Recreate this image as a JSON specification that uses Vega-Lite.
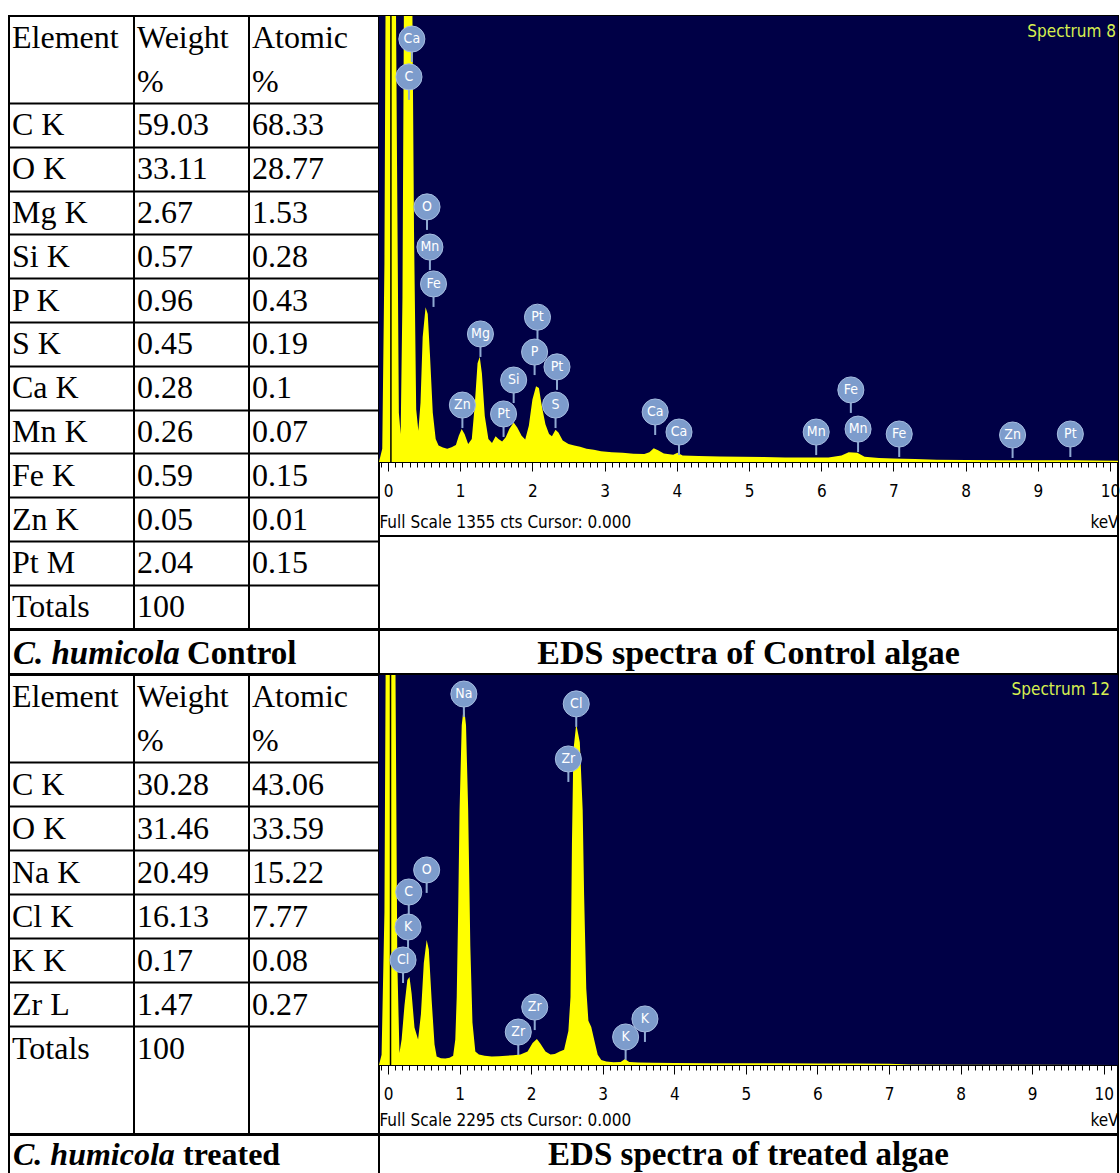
{
  "$schema": "https://vega.github.io/schema/vega-lite/v6.json",
  "padding": {"left": 8, "top": 14, "right": 0, "bottom": 0},
  "background": "white",
  "spacing": -2,
  "config": {
    "view": {"stroke": "black", "strokeWidth": 2},
    "concat": {"spacing": 0}
  },
  "datasets": {
    "t1": [
      {"row": "hdr1", "Element": "Element", "Weight": "Weight", "Atomic": "Atomic"},
      {"row": "hdr2", "Element": "", "Weight": "%", "Atomic": "%"},
      {"row": "C K", "Element": "C K", "Weight": 59.03, "Atomic": 68.33},
      {"row": "O K", "Element": "O K", "Weight": 33.11, "Atomic": 28.77},
      {"row": "Mg K", "Element": "Mg K", "Weight": 2.67, "Atomic": 1.53},
      {"row": "Si K", "Element": "Si K", "Weight": 0.57, "Atomic": 0.28},
      {"row": "P K", "Element": "P K", "Weight": 0.96, "Atomic": 0.43},
      {"row": "S K", "Element": "S K", "Weight": 0.45, "Atomic": 0.19},
      {"row": "Ca K", "Element": "Ca K", "Weight": 0.28, "Atomic": 0.1},
      {"row": "Mn K", "Element": "Mn K", "Weight": 0.26, "Atomic": 0.07},
      {"row": "Fe K", "Element": "Fe K", "Weight": 0.59, "Atomic": 0.15},
      {"row": "Zn K", "Element": "Zn K", "Weight": 0.05, "Atomic": 0.01},
      {"row": "Pt M", "Element": "Pt M", "Weight": 2.04, "Atomic": 0.15},
      {"row": "Totals", "Element": "Totals", "Weight": 100, "Atomic": ""}
    ],
    "t2": [
      {"row": "hdr1", "Element": "Element", "Weight": "Weight", "Atomic": "Atomic"},
      {"row": "hdr2", "Element": "", "Weight": "%", "Atomic": "%"},
      {"row": "C K", "Element": "C K", "Weight": 30.28, "Atomic": 43.06},
      {"row": "O K", "Element": "O K", "Weight": 31.46, "Atomic": 33.59},
      {"row": "Na K", "Element": "Na K", "Weight": 20.49, "Atomic": 15.22},
      {"row": "Cl K", "Element": "Cl K", "Weight": 16.13, "Atomic": 7.77},
      {"row": "K K", "Element": "K K", "Weight": 0.17, "Atomic": 0.08},
      {"row": "Zr L", "Element": "Zr L", "Weight": 1.47, "Atomic": 0.27},
      {"row": "Totals", "Element": "Totals", "Weight": 100, "Atomic": ""}
    ],
    "spec1": [
      {"keV": -0.125, "cts": 0}, {"keV": -0.08, "cts": 40}, {"keV": -0.05, "cts": 600}, {"keV": -0.03, "cts": 1600},
      {"keV": 0.0, "cts": 1650}, {"keV": 0.05, "cts": 1700}, {"keV": 0.1, "cts": 1700}, {"keV": 0.125, "cts": 900},
      {"keV": 0.15, "cts": 150}, {"keV": 0.175, "cts": 85}, {"keV": 0.2, "cts": 500}, {"keV": 0.225, "cts": 1600},
      {"keV": 0.33, "cts": 1600}, {"keV": 0.36, "cts": 700}, {"keV": 0.39, "cts": 160}, {"keV": 0.42, "cts": 95},
      {"keV": 0.45, "cts": 180}, {"keV": 0.48, "cts": 380}, {"keV": 0.52, "cts": 470}, {"keV": 0.55, "cts": 450},
      {"keV": 0.58, "cts": 330}, {"keV": 0.62, "cts": 150}, {"keV": 0.66, "cts": 70}, {"keV": 0.7, "cts": 50},
      {"keV": 0.76, "cts": 44}, {"keV": 0.82, "cts": 40}, {"keV": 0.88, "cts": 45}, {"keV": 0.94, "cts": 52},
      {"keV": 0.98, "cts": 80}, {"keV": 1.02, "cts": 100}, {"keV": 1.06, "cts": 85}, {"keV": 1.11, "cts": 55},
      {"keV": 1.16, "cts": 70}, {"keV": 1.2, "cts": 170}, {"keV": 1.24, "cts": 300}, {"keV": 1.27, "cts": 320},
      {"keV": 1.3, "cts": 270}, {"keV": 1.34, "cts": 140}, {"keV": 1.39, "cts": 70}, {"keV": 1.44, "cts": 58},
      {"keV": 1.49, "cts": 78}, {"keV": 1.53, "cts": 70}, {"keV": 1.58, "cts": 62}, {"keV": 1.63, "cts": 75},
      {"keV": 1.68, "cts": 100}, {"keV": 1.74, "cts": 120}, {"keV": 1.79, "cts": 105}, {"keV": 1.85, "cts": 80},
      {"keV": 1.9, "cts": 68}, {"keV": 1.95, "cts": 110}, {"keV": 2.0, "cts": 190}, {"keV": 2.05, "cts": 230},
      {"keV": 2.09, "cts": 225}, {"keV": 2.13, "cts": 170}, {"keV": 2.18, "cts": 115}, {"keV": 2.23, "cts": 85},
      {"keV": 2.27, "cts": 78}, {"keV": 2.32, "cts": 98}, {"keV": 2.36, "cts": 90}, {"keV": 2.42, "cts": 65},
      {"keV": 2.5, "cts": 55}, {"keV": 2.58, "cts": 50}, {"keV": 2.66, "cts": 46}, {"keV": 2.75, "cts": 40},
      {"keV": 2.85, "cts": 37}, {"keV": 2.95, "cts": 33}, {"keV": 3.1, "cts": 30}, {"keV": 3.25, "cts": 28},
      {"keV": 3.4, "cts": 25}, {"keV": 3.55, "cts": 24}, {"keV": 3.62, "cts": 30}, {"keV": 3.68, "cts": 42},
      {"keV": 3.74, "cts": 36}, {"keV": 3.82, "cts": 26}, {"keV": 3.95, "cts": 22}, {"keV": 4.01, "cts": 28},
      {"keV": 4.08, "cts": 20}, {"keV": 4.3, "cts": 18}, {"keV": 4.6, "cts": 17}, {"keV": 4.9, "cts": 16},
      {"keV": 5.2, "cts": 15}, {"keV": 5.5, "cts": 14}, {"keV": 5.8, "cts": 14}, {"keV": 6.1, "cts": 14},
      {"keV": 6.28, "cts": 20}, {"keV": 6.38, "cts": 30}, {"keV": 6.5, "cts": 28}, {"keV": 6.6, "cts": 16},
      {"keV": 6.8, "cts": 12}, {"keV": 7.0, "cts": 11}, {"keV": 7.3, "cts": 9}, {"keV": 7.6, "cts": 7},
      {"keV": 8.0, "cts": 6}, {"keV": 8.5, "cts": 5}, {"keV": 9.0, "cts": 5}, {"keV": 9.5, "cts": 5},
      {"keV": 10.11, "cts": 4}
    ],
    "spec2": [
      {"keV": -0.126, "cts": 0}, {"keV": -0.09, "cts": 60}, {"keV": -0.05, "cts": 900}, {"keV": -0.03, "cts": 2600},
      {"keV": 0.1, "cts": 2600}, {"keV": 0.13, "cts": 600}, {"keV": 0.16, "cts": 70}, {"keV": 0.19, "cts": 150},
      {"keV": 0.23, "cts": 350}, {"keV": 0.27, "cts": 500}, {"keV": 0.3, "cts": 518}, {"keV": 0.33, "cts": 420},
      {"keV": 0.37, "cts": 220}, {"keV": 0.42, "cts": 150}, {"keV": 0.46, "cts": 300}, {"keV": 0.5, "cts": 600},
      {"keV": 0.54, "cts": 735}, {"keV": 0.57, "cts": 680}, {"keV": 0.61, "cts": 380}, {"keV": 0.65, "cts": 120},
      {"keV": 0.68, "cts": 50}, {"keV": 0.74, "cts": 40}, {"keV": 0.8, "cts": 38}, {"keV": 0.86, "cts": 42},
      {"keV": 0.91, "cts": 55}, {"keV": 0.94, "cts": 150}, {"keV": 0.96, "cts": 400}, {"keV": 0.98, "cts": 900},
      {"keV": 1.0, "cts": 1500}, {"keV": 1.03, "cts": 2000}, {"keV": 1.06, "cts": 2113}, {"keV": 1.09, "cts": 2000},
      {"keV": 1.12, "cts": 1500}, {"keV": 1.15, "cts": 700}, {"keV": 1.18, "cts": 250}, {"keV": 1.22, "cts": 80},
      {"keV": 1.27, "cts": 62}, {"keV": 1.35, "cts": 55}, {"keV": 1.45, "cts": 50}, {"keV": 1.55, "cts": 52},
      {"keV": 1.65, "cts": 55}, {"keV": 1.75, "cts": 58}, {"keV": 1.85, "cts": 62}, {"keV": 1.95, "cts": 80},
      {"keV": 2.02, "cts": 130}, {"keV": 2.08, "cts": 153}, {"keV": 2.13, "cts": 125}, {"keV": 2.2, "cts": 80},
      {"keV": 2.27, "cts": 62}, {"keV": 2.33, "cts": 65}, {"keV": 2.4, "cts": 80}, {"keV": 2.46, "cts": 90},
      {"keV": 2.52, "cts": 200}, {"keV": 2.55, "cts": 400}, {"keV": 2.57, "cts": 1300}, {"keV": 2.59, "cts": 1850},
      {"keV": 2.63, "cts": 2007}, {"keV": 2.68, "cts": 1900}, {"keV": 2.72, "cts": 1500}, {"keV": 2.74, "cts": 1000},
      {"keV": 2.77, "cts": 450}, {"keV": 2.8, "cts": 260}, {"keV": 2.84, "cts": 224}, {"keV": 2.88, "cts": 150},
      {"keV": 2.93, "cts": 60}, {"keV": 2.98, "cts": 30}, {"keV": 3.05, "cts": 20}, {"keV": 3.15, "cts": 16},
      {"keV": 3.25, "cts": 18}, {"keV": 3.31, "cts": 35}, {"keV": 3.37, "cts": 18}, {"keV": 3.5, "cts": 15},
      {"keV": 3.7, "cts": 13}, {"keV": 4.0, "cts": 12}, {"keV": 4.5, "cts": 11}, {"keV": 5.0, "cts": 10},
      {"keV": 5.5, "cts": 10}, {"keV": 6.0, "cts": 9}, {"keV": 6.5, "cts": 9}, {"keV": 7.0, "cts": 8},
      {"keV": 7.3, "cts": 3}, {"keV": 8.0, "cts": 2}, {"keV": 9.0, "cts": 1}, {"keV": 10.2, "cts": 0}
    ],
    "lab1": [
      {"el": "Ca", "keV": 0.33, "cts": 1285}, {"el": "C", "keV": 0.29, "cts": 1170},
      {"el": "O", "keV": 0.54, "cts": 775}, {"el": "Mn", "keV": 0.58, "cts": 653},
      {"el": "Fe", "keV": 0.63, "cts": 541}, {"el": "Mg", "keV": 1.28, "cts": 389},
      {"el": "Pt", "keV": 2.07, "cts": 440}, {"el": "P", "keV": 2.03, "cts": 334},
      {"el": "Pt", "keV": 2.34, "cts": 289}, {"el": "Si", "keV": 1.74, "cts": 249},
      {"el": "S", "keV": 2.32, "cts": 173}, {"el": "Zn", "keV": 1.03, "cts": 173},
      {"el": "Pt", "keV": 1.6, "cts": 146}, {"el": "Ca", "keV": 3.7, "cts": 152},
      {"el": "Ca", "keV": 4.03, "cts": 91}, {"el": "Fe", "keV": 6.41, "cts": 219},
      {"el": "Mn", "keV": 5.93, "cts": 91}, {"el": "Mn", "keV": 6.51, "cts": 100},
      {"el": "Fe", "keV": 7.08, "cts": 85}, {"el": "Zn", "keV": 8.65, "cts": 82},
      {"el": "Pt", "keV": 9.45, "cts": 85}
    ],
    "lab2": [
      {"el": "Na", "keV": 1.06, "cts": 2183}, {"el": "Cl", "keV": 2.63, "cts": 2125},
      {"el": "Zr", "keV": 2.52, "cts": 1801}, {"el": "O", "keV": 0.54, "cts": 1148},
      {"el": "C", "keV": 0.29, "cts": 1018}, {"el": "K", "keV": 0.28, "cts": 812},
      {"el": "Cl", "keV": 0.21, "cts": 618}, {"el": "Zr", "keV": 2.05, "cts": 341},
      {"el": "Zr", "keV": 1.82, "cts": 194}, {"el": "K", "keV": 3.32, "cts": 165},
      {"el": "K", "keV": 3.59, "cts": 271}
    ]
  },
  "vconcat": [
    {
      "hconcat": [
        {
          "width": 125, "height": 613,
          "data": {"name": "t1"},
          "mark": {"type": "text", "align": "left", "baseline": "middle", "dx": 3, "font": "Liberation Serif", "fontSize": 32, "color": "black"},
          "encoding": {
            "x": {"datum": 0, "type": "quantitative", "scale": {"domain": [0, 1]}, "axis": null},
            "y": {"field": "row", "type": "nominal", "scale": {"type": "band", "domain": ["hdr1", "hdr2", "C K", "O K", "Mg K", "Si K", "P K", "S K", "Ca K", "Mn K", "Fe K", "Zn K", "Pt M", "Totals"], "paddingInner": 0, "paddingOuter": 0},
              "axis": {"values": ["C K", "O K", "Mg K", "Si K", "P K", "S K", "Ca K", "Mn K", "Fe K", "Zn K", "Pt M", "Totals"], "bandPosition": 0, "grid": true, "gridColor": "black", "gridWidth": 2, "gridOpacity": 1, "labels": false, "ticks": false, "domain": false, "title": null}},
            "text": {"field": "Element", "type": "nominal"}
          }
        },
        {
          "width": 115, "height": 613,
          "data": {"name": "t1"},
          "mark": {"type": "text", "align": "left", "baseline": "middle", "dx": 3, "font": "Liberation Serif", "fontSize": 32, "color": "black"},
          "encoding": {
            "x": {"datum": 0, "type": "quantitative", "scale": {"domain": [0, 1]}, "axis": null},
            "y": {"field": "row", "type": "nominal", "scale": {"type": "band", "domain": ["hdr1", "hdr2", "C K", "O K", "Mg K", "Si K", "P K", "S K", "Ca K", "Mn K", "Fe K", "Zn K", "Pt M", "Totals"], "paddingInner": 0, "paddingOuter": 0},
              "axis": {"values": ["C K", "O K", "Mg K", "Si K", "P K", "S K", "Ca K", "Mn K", "Fe K", "Zn K", "Pt M", "Totals"], "bandPosition": 0, "grid": true, "gridColor": "black", "gridWidth": 2, "gridOpacity": 1, "labels": false, "ticks": false, "domain": false, "title": null}},
            "text": {"field": "Weight", "type": "nominal"}
          }
        },
        {
          "width": 130, "height": 613,
          "data": {"name": "t1"},
          "mark": {"type": "text", "align": "left", "baseline": "middle", "dx": 3, "font": "Liberation Serif", "fontSize": 32, "color": "black"},
          "encoding": {
            "x": {"datum": 0, "type": "quantitative", "scale": {"domain": [0, 1]}, "axis": null},
            "y": {"field": "row", "type": "nominal", "scale": {"type": "band", "domain": ["hdr1", "hdr2", "C K", "O K", "Mg K", "Si K", "P K", "S K", "Ca K", "Mn K", "Fe K", "Zn K", "Pt M", "Totals"], "paddingInner": 0, "paddingOuter": 0},
              "axis": {"values": ["C K", "O K", "Mg K", "Si K", "P K", "S K", "Ca K", "Mn K", "Fe K", "Zn K", "Pt M", "Totals"], "bandPosition": 0, "grid": true, "gridColor": "black", "gridWidth": 2, "gridOpacity": 1, "labels": false, "ticks": false, "domain": false, "title": null}},
            "text": {"field": "Atomic", "type": "nominal"}
          }
        },
        {
          "vconcat": [
            {
              "width": 739, "height": 520,
              "resolve": {"axis": {"x": "independent"}},
              "layer": [
                {
                  "data": {"values": [{}]},
                  "mark": {"type": "rect", "color": "#000046"},
                  "encoding": {"y": {"datum": 0, "type": "quantitative", "axis": null}, "y2": {"datum": 1355}}
                },
                {
                  "data": {"name": "spec1"},
                  "mark": {"type": "area", "color": "#ffff00", "clip": true, "opacity": 1},
                  "encoding": {
                    "x": {"field": "keV", "type": "quantitative", "scale": {"domain": [-0.125, 10.11], "nice": false, "zero": false},
                      "axis": {"orient": "bottom", "offset": -74, "values": [0, 1, 2, 3, 4, 5, 6, 7, 8, 9, 10], "format": "d", "tickSize": 9, "tickColor": "black", "tickWidth": 1, "domain": true, "domainColor": "black", "domainWidth": 1, "grid": false, "labelFont": "Liberation Sans Narrow, DejaVu Sans Condensed, Liberation Sans", "labelFontSize": 17, "labelColor": "black", "labelPadding": 12, "labelFlush": false, "labelOverlap": false, "title": "Full Scale 1355 cts Cursor: 0.000", "titleAnchor": "start", "titleAlign": "left", "titleY": 60, "titleBaseline": "middle", "titleFont": "Liberation Sans Narrow, DejaVu Sans Condensed, Liberation Sans", "titleFontSize": 17, "titleFontWeight": "normal", "titleColor": "black"}},
                    "y": {"field": "cts", "type": "quantitative", "stack": null, "scale": {"domain": [-224.8, 1355], "nice": false, "zero": false}, "axis": null}
                  }
                },
                {
                  "data": {"values": [{}]},
                  "mark": {"type": "rule", "color": "black", "strokeWidth": 1.5},
                  "encoding": {
                    "x": {"datum": 0.04, "type": "quantitative",
                      "axis": {"orient": "bottom", "offset": -74, "tickCount": 100, "tickSize": 5, "tickColor": "black", "tickWidth": 1, "labels": false, "domain": false, "grid": false, "title": "keV", "titleAnchor": "end", "titleAlign": "right", "titleY": 60, "titleBaseline": "middle", "titleFont": "Liberation Sans Narrow, DejaVu Sans Condensed, Liberation Sans", "titleFontSize": 17, "titleFontWeight": "normal", "titleColor": "black"}},
                    "y": {"datum": 1355, "type": "quantitative", "axis": null},
                    "y2": {"datum": 0}
                  }
                },
                {
                  "data": {"name": "lab1"},
                  "mark": {"type": "tick", "orient": "vertical", "color": "#8fa9d2", "size": 10, "thickness": 2, "yOffset": 18, "opacity": 1},
                  "encoding": {"x": {"field": "keV", "type": "quantitative", "axis": null}, "y": {"field": "cts", "type": "quantitative", "axis": null}}
                },
                {
                  "data": {"name": "lab1"},
                  "mark": {"type": "point", "shape": "circle", "filled": true, "color": "#7d9ccc", "size": 680, "opacity": 1, "stroke": "#a6bde0", "strokeWidth": 1},
                  "encoding": {"x": {"field": "keV", "type": "quantitative", "axis": null}, "y": {"field": "cts", "type": "quantitative", "axis": null}}
                },
                {
                  "data": {"name": "lab1"},
                  "mark": {"type": "text", "color": "white", "font": "Liberation Sans Narrow, DejaVu Sans Condensed, Liberation Sans", "fontSize": 14, "baseline": "middle", "align": "center"},
                  "encoding": {"x": {"field": "keV", "type": "quantitative", "axis": null}, "y": {"field": "cts", "type": "quantitative", "axis": null}, "text": {"field": "el"}}
                },
                {
                  "data": {"values": [{"t": "Spectrum 8"}]},
                  "mark": {"type": "text", "color": "#d6ef50", "font": "Liberation Sans Narrow, DejaVu Sans Condensed, Liberation Sans", "fontSize": 17, "baseline": "top", "align": "right", "dx": -2, "dy": 8},
                  "encoding": {"x": {"datum": 10.11, "type": "quantitative", "axis": null}, "y": {"datum": 1355, "type": "quantitative", "axis": null}, "text": {"field": "t"}}
                }
              ]
            },
            {
              "width": 739, "height": 93,
              "data": {"values": [{}]},
              "mark": {"type": "text"},
              "encoding": {"x": {"datum": 0, "type": "quantitative", "scale": {"domain": [0, 1]}, "axis": null}, "text": {"value": ""}}
            }
          ],
          "spacing": 0,
          "bounds": "flush"
        }
      ],
      "spacing": 0,
      "bounds": "flush"
    },
    {
      "hconcat": [
        {
          "width": 370, "height": 44,
          "layer": [
            {
              "data": {"values": [{"t": "C. humicola"}]},
              "mark": {"type": "text", "align": "left", "baseline": "middle", "dx": 4, "dy": 2, "font": "Liberation Serif", "fontSize": 33, "fontWeight": "bold", "fontStyle": "italic", "color": "black"},
              "encoding": {"x": {"datum": 0, "type": "quantitative", "scale": {"domain": [0, 1]}, "axis": null}, "text": {"field": "t"}}
            },
            {
              "data": {"values": [{"t": "Control"}]},
              "mark": {"type": "text", "align": "left", "baseline": "middle", "dx": 178, "dy": 2, "font": "Liberation Serif", "fontSize": 33, "fontWeight": "bold", "color": "black"},
              "encoding": {"x": {"datum": 0, "type": "quantitative", "axis": null}, "text": {"field": "t"}}
            }
          ]
        },
        {
          "width": 739, "height": 44,
          "data": {"values": [{"t": "EDS spectra of Control algae"}]},
          "mark": {"type": "text", "align": "center", "baseline": "middle", "dy": 2, "font": "Liberation Serif", "fontSize": 34, "fontWeight": "bold", "color": "black"},
          "encoding": {"x": {"datum": 0.5, "type": "quantitative", "scale": {"domain": [0, 1]}, "axis": null}, "text": {"field": "t"}}
        }
      ],
      "spacing": 0,
      "bounds": "flush"
    },
    {
      "hconcat": [
        {
          "width": 125, "height": 459,
          "data": {"name": "t2"},
          "mark": {"type": "text", "align": "left", "baseline": "middle", "dx": 3, "font": "Liberation Serif", "fontSize": 32, "color": "black"},
          "encoding": {
            "x": {"datum": 0, "type": "quantitative", "scale": {"domain": [0, 1]}, "axis": null},
            "y": {"field": "row", "type": "nominal", "scale": {"type": "band", "domain": ["hdr1", "hdr2", "C K", "O K", "Na K", "Cl K", "K K", "Zr L", "Totals"], "paddingInner": 0, "paddingOuter": 0.716, "align": 0},
              "axis": {"values": ["C K", "O K", "Na K", "Cl K", "K K", "Zr L", "Totals"], "bandPosition": 0, "grid": true, "gridColor": "black", "gridWidth": 2, "gridOpacity": 1, "labels": false, "ticks": false, "domain": false, "title": null}},
            "text": {"field": "Element", "type": "nominal"}
          }
        },
        {
          "width": 115, "height": 459,
          "data": {"name": "t2"},
          "mark": {"type": "text", "align": "left", "baseline": "middle", "dx": 3, "font": "Liberation Serif", "fontSize": 32, "color": "black"},
          "encoding": {
            "x": {"datum": 0, "type": "quantitative", "scale": {"domain": [0, 1]}, "axis": null},
            "y": {"field": "row", "type": "nominal", "scale": {"type": "band", "domain": ["hdr1", "hdr2", "C K", "O K", "Na K", "Cl K", "K K", "Zr L", "Totals"], "paddingInner": 0, "paddingOuter": 0.716, "align": 0},
              "axis": {"values": ["C K", "O K", "Na K", "Cl K", "K K", "Zr L", "Totals"], "bandPosition": 0, "grid": true, "gridColor": "black", "gridWidth": 2, "gridOpacity": 1, "labels": false, "ticks": false, "domain": false, "title": null}},
            "text": {"field": "Weight", "type": "nominal"}
          }
        },
        {
          "width": 130, "height": 459,
          "data": {"name": "t2"},
          "mark": {"type": "text", "align": "left", "baseline": "middle", "dx": 3, "font": "Liberation Serif", "fontSize": 32, "color": "black"},
          "encoding": {
            "x": {"datum": 0, "type": "quantitative", "scale": {"domain": [0, 1]}, "axis": null},
            "y": {"field": "row", "type": "nominal", "scale": {"type": "band", "domain": ["hdr1", "hdr2", "C K", "O K", "Na K", "Cl K", "K K", "Zr L", "Totals"], "paddingInner": 0, "paddingOuter": 0.716, "align": 0},
              "axis": {"values": ["C K", "O K", "Na K", "Cl K", "K K", "Zr L", "Totals"], "bandPosition": 0, "grid": true, "gridColor": "black", "gridWidth": 2, "gridOpacity": 1, "labels": false, "ticks": false, "domain": false, "title": null}},
            "text": {"field": "Atomic", "type": "nominal"}
          }
        },
        {
          "width": 739, "height": 459,
          "resolve": {"axis": {"x": "independent"}},
          "layer": [
            {
              "data": {"values": [{}]},
              "mark": {"type": "rect", "color": "#000046"},
              "encoding": {"y": {"datum": 0, "type": "quantitative", "axis": null}, "y2": {"datum": 2295}}
            },
            {
              "data": {"name": "spec2"},
              "mark": {"type": "area", "color": "#ffff00", "clip": true, "opacity": 1},
              "encoding": {
                "x": {"field": "keV", "type": "quantitative", "scale": {"domain": [-0.126, 10.2], "nice": false, "zero": false},
                  "axis": {"orient": "bottom", "offset": -69, "values": [0, 1, 2, 3, 4, 5, 6, 7, 8, 9, 10], "format": "d", "tickSize": 9, "tickColor": "black", "tickWidth": 1, "domain": true, "domainColor": "black", "domainWidth": 1, "grid": false, "labelFont": "Liberation Sans Narrow, DejaVu Sans Condensed, Liberation Sans", "labelFontSize": 17, "labelColor": "black", "labelPadding": 12, "labelFlush": false, "labelOverlap": false, "title": "Full Scale 2295 cts Cursor: 0.000", "titleAnchor": "start", "titleAlign": "left", "titleY": 55, "titleBaseline": "middle", "titleFont": "Liberation Sans Narrow, DejaVu Sans Condensed, Liberation Sans", "titleFontSize": 17, "titleFontWeight": "normal", "titleColor": "black"}},
                "y": {"field": "cts", "type": "quantitative", "stack": null, "scale": {"domain": [-406, 2295], "nice": false, "zero": false}, "axis": null}
              }
            },
            {
              "data": {"values": [{}]},
              "mark": {"type": "rule", "color": "black", "strokeWidth": 1.5},
              "encoding": {
                "x": {"datum": 0.035, "type": "quantitative",
                  "axis": {"orient": "bottom", "offset": -69, "tickCount": 100, "tickSize": 5, "tickColor": "black", "tickWidth": 1, "labels": false, "domain": false, "grid": false, "title": "keV", "titleAnchor": "end", "titleAlign": "right", "titleY": 55, "titleBaseline": "middle", "titleFont": "Liberation Sans Narrow, DejaVu Sans Condensed, Liberation Sans", "titleFontSize": 17, "titleFontWeight": "normal", "titleColor": "black"}},
                "y": {"datum": 2295, "type": "quantitative", "axis": null},
                "y2": {"datum": 0}
              }
            },
            {
              "data": {"name": "lab2"},
              "mark": {"type": "tick", "orient": "vertical", "color": "#8fa9d2", "size": 10, "thickness": 2, "yOffset": 18, "opacity": 1},
              "encoding": {"x": {"field": "keV", "type": "quantitative", "axis": null}, "y": {"field": "cts", "type": "quantitative", "axis": null}}
            },
            {
              "data": {"name": "lab2"},
              "mark": {"type": "point", "shape": "circle", "filled": true, "color": "#7d9ccc", "size": 680, "opacity": 1, "stroke": "#a6bde0", "strokeWidth": 1},
              "encoding": {"x": {"field": "keV", "type": "quantitative", "axis": null}, "y": {"field": "cts", "type": "quantitative", "axis": null}}
            },
            {
              "data": {"name": "lab2"},
              "mark": {"type": "text", "color": "white", "font": "Liberation Sans Narrow, DejaVu Sans Condensed, Liberation Sans", "fontSize": 14, "baseline": "middle", "align": "center"},
              "encoding": {"x": {"field": "keV", "type": "quantitative", "axis": null}, "y": {"field": "cts", "type": "quantitative", "axis": null}, "text": {"field": "el"}}
            },
            {
              "data": {"values": [{"t": "Spectrum 12"}]},
              "mark": {"type": "text", "color": "#d6ef50", "font": "Liberation Sans Narrow, DejaVu Sans Condensed, Liberation Sans", "fontSize": 17, "baseline": "top", "align": "right", "dx": -8, "dy": 7},
              "encoding": {"x": {"datum": 10.2, "type": "quantitative", "axis": null}, "y": {"datum": 2295, "type": "quantitative", "axis": null}, "text": {"field": "t"}}
            }
          ]
        }
      ],
      "spacing": 0,
      "bounds": "flush"
    },
    {
      "hconcat": [
        {
          "width": 370, "height": 44,
          "layer": [
            {
              "data": {"values": [{"t": "C. humicola"}]},
              "mark": {"type": "text", "align": "left", "baseline": "middle", "dx": 4, "dy": -2, "font": "Liberation Serif", "fontSize": 32, "fontWeight": "bold", "fontStyle": "italic", "color": "black"},
              "encoding": {"x": {"datum": 0, "type": "quantitative", "scale": {"domain": [0, 1]}, "axis": null}, "text": {"field": "t"}}
            },
            {
              "data": {"values": [{"t": "treated"}]},
              "mark": {"type": "text", "align": "left", "baseline": "middle", "dx": 174, "dy": -2, "font": "Liberation Serif", "fontSize": 32, "fontWeight": "bold", "color": "black"},
              "encoding": {"x": {"datum": 0, "type": "quantitative", "axis": null}, "text": {"field": "t"}}
            }
          ]
        },
        {
          "width": 739, "height": 44,
          "data": {"values": [{"t": "EDS spectra of treated algae"}]},
          "mark": {"type": "text", "align": "center", "baseline": "middle", "dy": -2, "font": "Liberation Serif", "fontSize": 33, "fontWeight": "bold", "color": "black"},
          "encoding": {"x": {"datum": 0.5, "type": "quantitative", "scale": {"domain": [0, 1]}, "axis": null}, "text": {"field": "t"}}
        }
      ],
      "spacing": 0,
      "bounds": "flush"
    }
  ]
}
